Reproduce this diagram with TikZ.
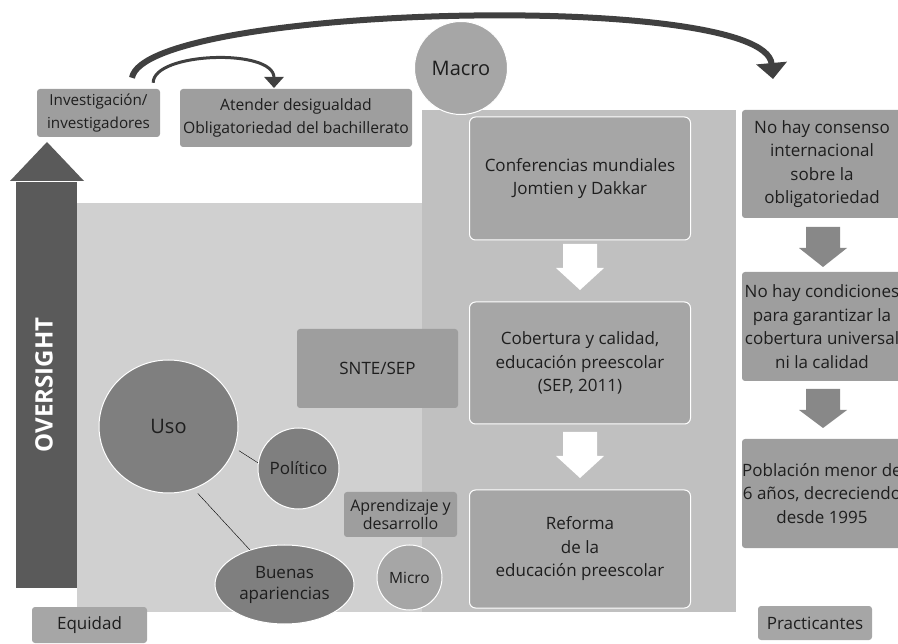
\documentclass[tikz,border=0pt]{standalone}
\usepackage{fontspec}
\setmainfont{Open Sans}
\usetikzlibrary{positioning,shapes.geometric,arrows.meta}

\definecolor{panelleft}{HTML}{D0D0D0}
\definecolor{panelright}{HTML}{C0C0C0}
\definecolor{boxfill}{HTML}{A6A6A6}
\definecolor{boxdark}{HTML}{9E9E9E}
\definecolor{bubble}{HTML}{7F7F7F}
\definecolor{barfill}{HTML}{5A5A5A}
\definecolor{flowgray}{HTML}{888888}
\definecolor{curvecol}{HTML}{404040}
\definecolor{txt}{HTML}{1E1E1E}

\begin{document}
\begin{tikzpicture}[x=1pt,y=-1pt,
    every node/.style={text=txt,align=center,font=\fontsize{17}{23.5}\selectfont},
    box/.style={fill=boxdark,rounded corners=3pt,inner sep=0pt},
    stage/.style={fill=boxfill,draw=white,line width=1pt,rounded corners=6pt,minimum width=221pt,inner sep=0pt},
    bubble/.style={fill=bubble,draw=white,line width=1pt,inner sep=0pt}]
	\useasboundingbox (0,0) rectangle (898,644);

	% background panels
	\fill[panelleft] (77,203) rectangle (422,612);
	\fill[panelright] (422,110) rectangle (736,612);

	% oversight bar
	\fill[barfill] (16,182) rectangle (77,588);
	\fill[barfill] (10,181) -- (47,142) -- (84,181) -- cycle;
	\node[rotate=90,text=white,font=\fontsize{24}{28}\selectfont\bfseries] (over) at (44,385) {OVERSIGHT};

	% top row
	\node[box,minimum width=123pt,minimum height=48pt,font=\fontsize{15.2}{22.5}\selectfont] (inv) at (98.5,113) {Investigación/\\investigadores};
	\node[box,minimum width=232pt,minimum height=58pt,font=\fontsize{15.7}{23}\selectfont] (atender) at (296,118) {Atender desigualdad\\Obligatoriedad del bachillerato};
	\node[circle,fill=boxfill,draw=white,line width=1pt,minimum size=93pt,inner sep=0pt,font=\fontsize{20}{24}\selectfont] (macro) at (461,68) {Macro};

	% central column
	\node[stage,minimum height=123pt] (conf) at (580,178.5) {Conferencias mundiales\\Jomtien y Dakkar};
	\node[stage,minimum height=122pt] (cob) at (580,363) {Cobertura y calidad,\\educación preescolar\\(SEP, 2011)};
	\node[stage,minimum height=118pt] (ref) at (580,549) {Reforma\\de la\\educación preescolar};
	\node[box,fill=boxdark,minimum width=161pt,minimum height=79pt] (snte) at (377.5,368.5) {SNTE/SEP};
	\node[box,minimum width=113pt,minimum height=45pt,font=\fontsize{16}{18}\selectfont] (apr) at (400.5,514.5) {Aprendizaje y\\desarrollo};

	% right column
	\node[box,minimum width=160pt,minimum height=108pt] (cons) at (822,164) {No hay consenso\\internacional\\sobre la\\obligatoriedad};
	\node[box,minimum width=160pt,minimum height=109pt] (cond) at (822,326.5) {No hay condiciones\\para garantizar la\\cobertura universal\\ni la calidad};
	\node[box,minimum width=160pt,minimum height=109pt] (pob) at (822,493.5) {Población menor de\\6 años, decreciendo\\desde 1995};

	% block arrows
	\foreach \cx/\ytop/\ybase/\ytip/\col in {580/244/268/290/white,580/432/456/478/white,823/227/248/267/flowgray,823/389/410/428/flowgray}
		\fill[\col] (\cx-17,\ytop) -- (\cx+17,\ytop) -- (\cx+17,\ybase) -- (\cx+24,\ybase) -- (\cx,\ytip) -- (\cx-24,\ybase) -- (\cx-17,\ybase) -- cycle;

	% bubbles
	\node[bubble,ellipse,minimum width=139pt,minimum height=133pt,font=\fontsize{20}{24}\selectfont] (uso) at (168.5,426.5) {Uso};
	\node[bubble,circle,minimum size=81pt] (pol) at (298.5,468.5) {Político};
	\node[bubble,ellipse,minimum width=139pt,minimum height=79pt,font=\fontsize{17}{21}\selectfont] (buenas) at (284.5,584.5) {Buenas\\apariencias};
	\node[bubble,circle,fill=boxfill,minimum size=65pt,font=\fontsize{15.5}{18}\selectfont] (micro) at (409.5,577.5) {Micro};

	\draw[shorten <=5pt] (uso.-18) -- (pol.172);
	\draw[shorten <=6pt] (uso.-68) -- (buenas.135);

	% bottom labels
	\node[box,fill=boxfill,minimum width=115pt,minimum height=36pt] (equ) at (89.5,625) {Equidad};
	\node[box,fill=boxfill,minimum width=114pt,minimum height=34pt] (prac) at (815,623) {Practicantes};

	% curved arrows
	\coordinate (smalltip) at (274,88);
	\coordinate (bigtip) at (773,79);
	\draw[curvecol,line width=3pt,-{Triangle[width=19pt,length=11pt]}] ([xshift=-7pt,yshift=6pt]inv.north east) .. controls (153,52) and (274,48) .. (smalltip);
	\draw[curvecol,line width=6pt,-{Triangle[width=30pt,length=16pt]}] ([xshift=33.5pt,yshift=11pt]inv.north) .. controls (145,5) and (765,-10) .. (bigtip);
\end{tikzpicture}
\end{document}
